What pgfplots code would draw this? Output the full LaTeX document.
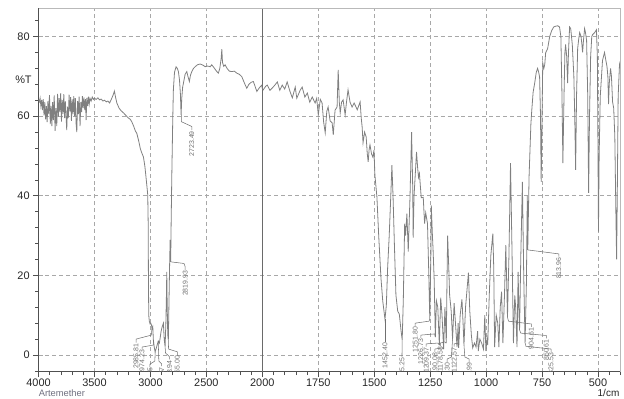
\documentclass[border=0pt]{standalone}
\usepackage{pgfplots}
\pgfplotsset{compat=1.18}
\usepackage{pgfplotstable}
\usepackage{fontspec}
\setmainfont{Liberation Sans}
\usetikzlibrary{calc}
\definecolor{spec}{HTML}{808080}
\definecolor{gridc}{HTML}{A8A8A8}
\definecolor{axc}{HTML}{505050}
\definecolor{labc}{HTML}{707070}
\definecolor{namec}{HTML}{707080}

\pgfplotstableread{
w t
4000 64.2
3993 63.6
3986 64.5
3979 62.5
3972 64.1
3965 61.5
3958 64.3
3951 60.2
3944 63.5
3937 59.2
3930 62.5
3923 58.5
3916 63.8
3909 60.5
3902 65.3
3895 58
3888 62.6
3881 57.5
3874 63.5
3867 59
3860 65.2
3852 56.3
3845 62
3837 57.5
3830 65.6
3823 59.8
3816 64.5
3809 61
3802 65.8
3795 58.6
3788 64
3781 60.6
3774 65.5
3767 59.5
3760 63.7
3748 56.5
3741 62.4
3734 59.5
3727 65.4
3720 61.2
3713 64.8
3706 58.8
3699 64.2
3692 60.5
3685 65
3678 60
3671 64.5
3664 58
3658 56
3651 63.8
3644 60.5
3637 64.9
3629 57.5
3622 63.5
3615 61
3608 65
3601 62
3594 64.7
3587 61.5
3580 64.3
3575 59
3568 64.6
3561 62.5
3554 64.9
3547 63
3540 64.5
3530 63.8
3520 64.8
3510 64.2
3500 64.5
3485 64.2
3470 64.6
3455 64.1
3440 64.3
3425 63.8
3410 64
3395 63.6
3380 63.8
3365 63.3
3350 64.2
3335 65.2
3322 66.3
3312 64.8
3300 63.3
3280 62
3260 61.3
3240 60.8
3220 60.2
3200 59.6
3180 59.2
3167 58.6
3150 57.5
3135 56.3
3122 55.7
3105 53.8
3090 51.8
3075 50.6
3063 49.8
3050 47.5
3040 44.8
3030 42
3024 40.2
3020 33
3018 20
3015 10
3010 8.5
3003 7.8
2997 8
2990 7.5
2986 6.5
2979 7.1
2974 3.8
2966 2.0
2958 0.8
2950 1.5
2940 2.5
2930 3.5
2920 3
2912 4.5
2905 5.9
2896 7
2890 7.5
2884 8
2877 4
2869 2.1
2862 8
2857 15
2854 20.9
2850 12
2845 5
2840 3.8
2835 12
2829 22
2824 28.9
2819 23.4
2815 33
2809 45
2800 60
2795 66.6
2785 71
2771 72.4
2760 72
2750 71.2
2740 69
2732 65.5
2726 60.3
2720 64.5
2712 67.3
2705 68.3
2690 70.5
2675 71.2
2665 70
2652 68.7
2642 70.3
2630 71.2
2615 72
2601 72.4
2580 72.9
2556 73.1
2530 72.8
2510 72.4
2496 72.6
2475 72.5
2466 72.4
2452 72.9
2430 72.1
2407 71.2
2393 70.8
2380 72
2368 74.5
2362 76.8
2356 73.5
2345 72.5
2333 72.9
2315 72
2295 71.3
2273 71.2
2250 71.3
2228 70.8
2205 70.5
2183 69.9
2160 68.3
2139 67
2120 68
2100 68.5
2080 68.7
2065 67.5
2049 66.2
2030 67
2015 67.5
2005 67.8
2000 66.9
1996 66.6
1985 67.5
1978 67.8
1966 66.5
1955 67.1
1944 67.8
1933 68.6
1922 66.5
1911 67.8
1900 66.8
1889 68.6
1877 66.3
1866 64.6
1853 67.3
1846 64.5
1840 65.3
1831 66.5
1822 67.3
1810 64.8
1799 65.8
1788 63.5
1777 64.8
1764 63.3
1757 64.5
1750 60.3
1741 64.2
1733 63.3
1726 58.5
1719 55.8
1712 61.2
1706 62.3
1697 58.8
1688 58.3
1683 55.3
1675 61.5
1666 62.3
1661 71.6
1656 63.5
1652 60.8
1646 63.5
1639 64.1
1630 60.3
1624 63.5
1617 66.6
1608 63.5
1599 62.3
1590 63.3
1583 62.5
1576 61.6
1570 62.5
1563 63.6
1558 59.5
1554 57.3
1550 53.3
1543 56
1536 54.8
1531 50.5
1527 48.5
1523 51.5
1519 52.8
1512 50.5
1506 49.7
1501 51.5
1497 45.2
1488 39.7
1480 30
1470 19.4
1462 13.6
1452 9
1446 12.4
1440 22
1433 30
1426 40
1421 47.7
1416 40
1410 28
1403 15
1395 11
1388 10.3
1380 6
1375 3.8
1370 14
1364 33
1360 30
1354 35.5
1348 26
1340 40
1333 56
1328 42
1326 29.5
1322 40
1311 51
1306 47
1302 44.6
1298 45.6
1290 39.5
1281 39.6
1275 33
1270 35.7
1262 33
1256 20
1251.8 9
1247 25
1245 37.6
1240 30
1237 26.4
1232 18.7
1227 4.5
1222 13.6
1216 12
1209 2.5
1203 14.4
1197 10
1190 1.5
1184 12
1178 3
1175 18
1172 30
1167 22
1163 15
1156 11
1150 4
1143 13
1137 8
1130 2
1125 8
1122.5 1.8
1116 10
1108 14
1103 8
1099 2.5
1092 12
1086 16
1079 20.7
1073 11
1066 5
1060 1.8
1052 3
1045 2
1038 6
1035 1
1028 4
1020 3
1012 1.5
1006 10
1001 1
996 4
993 2.5
986 15
979 25
970 30.5
966 22
962 2
955 10
948 8
943 2
937 12
931 15.9
925 3
918 15
912 27.6
908 18
904.6 9.5
898 25
891 48.2
884 25
878 3
872 15
868 12
862 2
857 20.9
854 12
850.6 6.3
845 25
838 43.5
832 20
826 3
820 18
816 40
814 26.4
808 45
800 58
796 61.5
790 66
783 68.3
776 71
770 72
765 71
761 69.8
757 60
754 43.5
750 60
747 73.4
742 72
738 73
734 75.9
725 77
716 80
707 81.5
698 82.4
689 82.6
680 82.7
672 82.4
666 80
661 65
657 48.2
652 65
648 76
645 78
640 75
636 68.3
632 76
627 82.4
622 82
615 78
608 70
604 60
600 46.5
596 65
591 77
586 79.5
582 81
576 80
572 78
569 76
565 79
560 82
556 81
551 79
546 65
542 40.7
538 60
533 75
528 80
524 80.5
515 81
507 81.7
503 75
500 50
498 31
495 50
490 65
480 74
471 76
465 74
460 72.5
456 70
453 63
450 68
444 72
440 70
435 63.6
430 62
425 55
420 35
417 24
414 40
410 65
404 73
400 72
}\spectrum

\newcommand{\pk}[4]{%
  \draw[labc,line width=0.4pt] #4;
  \node[rotate=90,anchor=east,font=\fontsize{5.2}{5.2}\selectfont,text=labc,inner sep=0.6pt] at (axis cs:#1,#2) {#3};}

\begin{document}
\begin{tikzpicture}
\begin{axis}[
  name=ax,
  scale only axis, width=436.4pt, height=272.6pt,
  xmin=4000, xmax=400, ymin=-4.2, ymax=87.1,
  x coord trafo/.code={\pgfmathparse{#1>=2000 ? (4000-#1)/2 : 3000-#1}},
  axis x line*=bottom, axis y line*=left,
  axis line style={axc, line width=0.6pt},
  xtick={4000,3500,3000,2500,1750,1500,1250,1000,750,500},
  xticklabels={4000,3500,3000,2500,1750,1500,1250,1000,750,500},
  extra x ticks={2000}, extra x tick labels={2000},
  extra x tick style={grid=major, major grid style={solid, draw=axc!85, line width=0.6pt}},
  minor xtick={3900,3800,3700,3600,3400,3300,3200,3100,2900,2800,2700,2600,2400,2300,2200,2100,1950,1900,1850,1800,1700,1650,1600,1550,1450,1400,1350,1300,1200,1150,1100,1050,950,900,850,800,700,650,600,550,450,400},
  ytick={0,20,40,60,80},
  minor ytick={-4,4,8,12,16,24,28,32,36,44,48,52,56,64,68,72,76,84},
  tick align=outside,
  major tick length=4pt, minor tick length=2.5pt,
  tick style={axc, line width=0.5pt},
  grid=major,
  major grid style={gridc, dash pattern=on 3pt off 2.2pt, line width=0.5pt},
  ticklabel style={font=\fontsize{8.2}{9}\selectfont, text=black!85},
  xticklabel style={inner sep=0.8pt},
  yticklabel style={inner sep=2.5pt},
  /pgf/number format/assume math mode=true,
]
\addplot[spec, line width=0.6pt, mark=none] table[x=w, y=t] {\spectrum};

\pk{2630}{56.5}{2723.49}{(axis cs:2723,60.3) -- (axis cs:2723,58.6) -- (axis cs:2630,57.4) -- (axis cs:2630,56.5)}
\pk{2690}{21.4}{2819.93}{(axis cs:2818,23.4) -- (axis cs:2700,23) -- (axis cs:2690,22.2) -- (axis cs:2690,21.4)}
\pk{3128}{3.1}{2985.81}{(axis cs:2986,6.5) -- (axis cs:2992,5) -- (axis cs:3128,4) -- (axis cs:3128,3.1)}
\pk{3075}{1.5}{2974.23}{(axis cs:2974,3.8) -- (axis cs:2974,2.5) -- (axis cs:3075,2) -- (axis cs:3075,1.5)}
\pk{3005}{-3}{2954.35}{(axis cs:2958,0.8) -- (axis cs:2960,-1.5) -- (axis cs:3005,-2.3) -- (axis cs:3005,-3)}
\pk{2900}{-2.8}{2927.57}{(axis cs:2930,3.5) -- (axis cs:2925,-1.5) -- (axis cs:2900,-2.2) -- (axis cs:2900,-2.8)}
\pk{2830}{-1.1}{2873.94}{(axis cs:2869,2.1) -- (axis cs:2865,0.5) -- (axis cs:2830,-0.4) -- (axis cs:2830,-1.1)}
\pk{2760}{0}{2855.00}{(axis cs:2840,3.8) -- (axis cs:2838,1.5) -- (axis cs:2760,0.8) -- (axis cs:2760,0)}
\pk{1452.4}{3.3}{1452.40}{(axis cs:1452.4,9) -- (axis cs:1452.4,3.3)}
\pk{1376}{-0.4}{1375.25}{(axis cs:1375.25,3.8) -- (axis cs:1376,-0.4)}
\pk{1317}{7.3}{1251.80}{(axis cs:1251.8,9) -- (axis cs:1255,8.5) -- (axis cs:1317,8) -- (axis cs:1317,7.3)}
\pk{1292}{4.3}{1226.73}{(axis cs:1226.73,4.5) -- (axis cs:1230,5.3) -- (axis cs:1292,5) -- (axis cs:1292,4.3)}
\pk{1268}{2.1}{1209.37}{(axis cs:1209.37,2.5) -- (axis cs:1215,3) -- (axis cs:1268,2.8) -- (axis cs:1268,2.1)}
\pk{1229}{0.8}{1190.08}{(axis cs:1190.08,1.5) -- (axis cs:1195,1.8) -- (axis cs:1229,1.5) -- (axis cs:1229,0.8)}
\pk{1205}{2.3}{1178.58}{(axis cs:1178.58,3) -- (axis cs:1185,3.3) -- (axis cs:1205,3) -- (axis cs:1205,2.3)}
\pk{1174}{-1.7}{1151.30}{(axis cs:1150,4) -- (axis cs:1155,-0.5) -- (axis cs:1174,-1) -- (axis cs:1174,-1.7)}
\pk{1143}{2.1}{1122.57}{(axis cs:1122.57,1.8) -- (axis cs:1125,3) -- (axis cs:1143,2.8) -- (axis cs:1143,2.1)}
\pk{1076}{-1.7}{1099.99}{(axis cs:1099,2.5) -- (axis cs:1095,-0.5) -- (axis cs:1076,-1) -- (axis cs:1076,-1.7)}
\pk{798}{7.1}{904.61}{(axis cs:904.6,9.5) -- (axis cs:900,8.5) -- (axis cs:798,7.8) -- (axis cs:798,7.1)}
\pk{731}{4.2}{850.61}{(axis cs:850.6,6.3) -- (axis cs:845,5.5) -- (axis cs:731,4.9) -- (axis cs:731,4.2)}
\pk{710}{0.8}{825.53}{(axis cs:825.53,3) -- (axis cs:822,2.2) -- (axis cs:710,1.5) -- (axis cs:710,0.8)}
\pk{675}{24.7}{813.96}{(axis cs:813.96,26.4) -- (axis cs:675,25.4) -- (axis cs:675,24.7)}
\end{axis}
\draw[gridc!80, line width=0.6pt] (ax.north west) -- (ax.north east) -- (ax.south east);
\node[font=\fontsize{8.2}{9}\selectfont, text=black!85] at ($(ax.north west)+(-11.3pt,-53.8pt)$) {\%T};
\node[anchor=base west, font=\fontsize{7}{8}\selectfont, text=namec, inner sep=0pt] at ($(ax.south west)+(0pt,-18.6pt)$) {Artemether};
\node[anchor=base east, font=\fontsize{7.5}{8}\selectfont, text=black!85, inner sep=0pt] at ($(ax.south east)+(-0.6pt,-18.6pt)$) {1/cm};
\pgfresetboundingbox
\path[use as bounding box] ($(ax.south west)+(-28.9pt,-19.7pt)$) rectangle ($(ax.north east)+(2.7pt,6.2pt)$);
\end{tikzpicture}
\end{document}
